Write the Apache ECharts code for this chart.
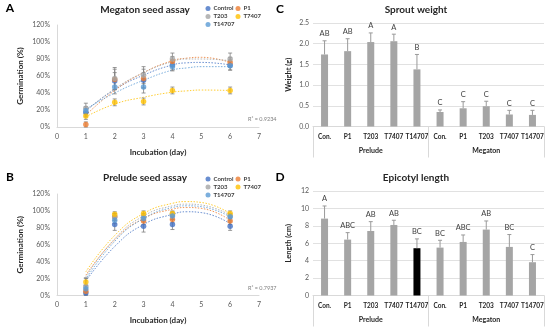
<!DOCTYPE html>
<html><head><meta charset="utf-8">
<script src="https://cdn.jsdelivr.net/npm/echarts@6/dist/echarts.min.js"></script>
<style>html,body{margin:0;padding:0;background:#fff}#c{width:550px;height:329px}</style>
</head><body><div id="c"></div>
<script>
// ---------- data ----------
const days = [1, 2, 3, 4, 6];
const trendDays = [1, 2, 3, 4, 4.5, 5, 6];
const seriesNames = ['Control', 'P1', 'T203', 'T7407', 'T14707'];
const xTicks = [0, 1, 2, 3, 4, 5, 6, 7];

// Megaton seed assay (germination %)
const megControl = [17, 54, 55, 73, 73];
const megP1 = [3, 56, 57, 77, 76];
const megT203 = [22, 57, 61, 80, 80];
const megT7407 = [13, 29, 30, 43, 43];
const megT14707 = [19, 47, 47, 71, 72];
const megControlErr = [5, 10, 9, 6, 6];
const megP1Err = [3, 12, 11, 6, 6];
const megT203Err = [6, 13, 10, 7, 7];
const megT7407Err = [4, 4, 4, 4, 4];
const megT14707Err = [5, 8, 7, 5, 5];
const megTrendControl = [19, 44, 61, 73, 75.5, 76, 73];
const megTrendP1 = [14, 43, 64, 78, 81, 82, 76];
const megTrendT203 = [19, 45, 64, 77, 80, 80, 78];
const megTrendT7407 = [12, 27, 35, 41, 42.5, 43.5, 43];
const megTrendT14707 = [21, 40, 55, 67, 69.5, 71, 71];
const megR2 = 'R² = 0.9234';

// Prelude seed assay (germination %)
const preControl = [3, 84, 82, 84, 82];
const preP1 = [5, 93, 88, 90, 88];
const preT203 = [11, 93, 93, 96, 94];
const preT7407 = [16, 96, 97, 97, 97];
const preT14707 = [8, 89, 91, 94, 93];
const preControlErr = [3, 7, 7, 6, 5];
const preP1Err = [3, 4, 4, 4, 4];
const preT203Err = [10, 4, 4, 3, 3];
const preT7407Err = [4, 3, 3, 3, 3];
const preT14707Err = [4, 4, 4, 4, 4];
const preTrendControl = [17, 58, 84, 96, 99, 98, 85];
const preTrendP1 = [24, 66, 91, 102, 104, 103, 89];
const preTrendT203 = [22, 67, 94, 106, 108, 107, 95];
const preTrendT7407 = [28, 71, 97, 109, 111, 110, 97];
const preTrendT14707 = [19, 64, 91, 104, 106, 105, 93];
const preR2 = 'R² = 0.7937';

// bar panels
const barCategories = ['Con.', 'P1', 'T203', 'T7407', 'T14707', 'Con.', 'P1', 'T203', 'T7407', 'T14707'];
const barGroups = ['Prelude', 'Megaton'];
const sproutWeight = [1.74, 1.82, 2.04, 2.06, 1.38, 0.35, 0.44, 0.49, 0.29, 0.28];
const sproutWeightErr = [0.33, 0.30, 0.22, 0.17, 0.36, 0.05, 0.16, 0.12, 0.10, 0.11];
const sproutLetters = ['AB', 'AB', 'A', 'A', 'B', 'C', 'C', 'C', 'C', 'C'];
const epicotyl = [8.83, 6.42, 7.41, 8.10, 5.43, 5.50, 6.15, 7.57, 5.58, 3.82];
const epicotylErr = [1.45, 0.80, 1.07, 0.54, 1.07, 0.84, 0.80, 0.99, 1.42, 0.88];
const epicotylLetters = ['A', 'ABC', 'AB', 'AB', 'BC', 'BC', 'ABC', 'AB', 'BC', 'C'];
const highlightedEpicotylIndex = 4;

// ---------- styling ----------
const F = 'Lato, "Open Sans", "Liberation Sans", sans-serif';
const colors = ['#4472c4', '#ed7d31', '#a5a5a5', '#ffc000', '#5b9bd5'];
const tickColor = '#595959';
const lineGray = '#d9d9d9';

const megVals = [megControl, megP1, megT203, megT7407, megT14707];
const megErrs = [megControlErr, megP1Err, megT203Err, megT7407Err, megT14707Err];
const megTrends = [megTrendControl, megTrendP1, megTrendT203, megTrendT7407, megTrendT14707];
const preVals = [preControl, preP1, preT203, preT7407, preT14707];
const preErrs = [preControlErr, preP1Err, preT203Err, preT7407Err, preT14707Err];
const preTrends = [preTrendControl, preTrendP1, preTrendT203, preTrendT7407, preTrendT14707];

function errBoth(params, api) {
  const x = api.value(0), v = api.value(1), e = api.value(2);
  const t = api.coord([x, v + e]), b = api.coord([x, v - e]);
  const c = 2, st = { stroke: '#7f7f7f', lineWidth: 0.8 };
  return { type: 'group', children: [
    { type: 'line', shape: { x1: t[0], y1: t[1], x2: b[0], y2: b[1] }, style: st },
    { type: 'line', shape: { x1: t[0] - c, y1: t[1], x2: t[0] + c, y2: t[1] }, style: st },
    { type: 'line', shape: { x1: b[0] - c, y1: b[1], x2: b[0] + c, y2: b[1] }, style: st }
  ]};
}
function errUpWithLetter(letters) {
  return function (params, api) {
    const x = api.value(0), v = api.value(1), e = api.value(2);
    const b = api.coord([x, v]), t = api.coord([x, v + e]);
    const c = 2, st = { stroke: '#9a9a9a', lineWidth: 1 };
    return { type: 'group', children: [
      { type: 'line', shape: { x1: t[0], y1: t[1], x2: b[0], y2: b[1] }, style: st },
      { type: 'line', shape: { x1: t[0] - c, y1: t[1], x2: t[0] + c, y2: t[1] }, style: st },
      { type: 'text', x: t[0], y: t[1] - 3, style: { text: letters[params.dataIndex], fill: '#404040',
        font: '7.5px ' + F, textAlign: 'center', textVerticalAlign: 'bottom' } }
    ]};
  };
}

const series = [];
function addScatterPanel(vals, errs, trends, axisIdx) {
  vals.forEach((arr, k) => {
    series.push({ type: 'line', name: 'trend' + axisIdx + k, xAxisIndex: axisIdx, yAxisIndex: axisIdx,
      data: trendDays.map((d, i) => [d, trends[k][i]]), smooth: true, showSymbol: false, silent: true,
      lineStyle: { color: colors[k], width: 1, type: [1.5, 1.5], opacity: 0.8 }, z: 2 });
  });
  vals.forEach((arr, k) => {
    series.push({ type: 'custom', name: 'err' + axisIdx + k, xAxisIndex: axisIdx, yAxisIndex: axisIdx,
      data: days.map((d, i) => [d, arr[i], errs[k][i]]), renderItem: errBoth, z: 3, silent: true });
  });
  vals.forEach((arr, k) => {
    series.push({ type: 'scatter', name: seriesNames[k], xAxisIndex: axisIdx, yAxisIndex: axisIdx,
      data: days.map((d, i) => [d, arr[i]]), symbol: 'circle', symbolSize: 5.5,
      itemStyle: { color: colors[k] }, z: 4 });
  });
}
addScatterPanel(megVals, megErrs, megTrends, 0);
addScatterPanel(preVals, preErrs, preTrends, 1);

series.push({ type: 'bar', xAxisIndex: 2, yAxisIndex: 2, data: sproutWeight, barWidth: 7,
  itemStyle: { color: '#a5a5a5' }, silent: true });
series.push({ type: 'custom', xAxisIndex: 2, yAxisIndex: 2, silent: true, z: 5,
  data: sproutWeight.map((v, i) => [i, v, sproutWeightErr[i]]), renderItem: errUpWithLetter(sproutLetters) });
series.push({ type: 'bar', xAxisIndex: 4, yAxisIndex: 3, barWidth: 7, silent: true,
  data: epicotyl.map((v, i) => ({ value: v, itemStyle: { color: i === highlightedEpicotylIndex ? '#000000' : '#a5a5a5' } })) });
series.push({ type: 'custom', xAxisIndex: 4, yAxisIndex: 3, silent: true, z: 5,
  data: epicotyl.map((v, i) => [i, v, epicotylErr[i]]), renderItem: errUpWithLetter(epicotylLetters) });

const grids = [
  { left: 57, top: 25, width: 202, height: 102 },
  { left: 57, top: 194, width: 202, height: 101.5 },
  { left: 313, top: 23, width: 231, height: 103.5 },
  { left: 313, top: 191, width: 231, height: 104.5 }
];

function valueX(gi) {
  return { type: 'value', gridIndex: gi, min: xTicks[0], max: xTicks[xTicks.length - 1], interval: 1,
    axisLine: { show: true, lineStyle: { color: lineGray } }, axisTick: { show: false }, splitLine: { show: false },
    axisLabel: { color: tickColor, fontSize: 7, fontFamily: F, margin: 6 },
    name: 'Incubation (day)', nameLocation: 'middle', nameGap: 21,
    nameTextStyle: { fontSize: 8, fontWeight: 'bold', fontFamily: F, color: '#262626' } };
}
function pctY(gi) {
  return { type: 'value', gridIndex: gi, min: 0, max: 120, interval: 20,
    axisLine: { show: true, lineStyle: { color: lineGray } }, axisTick: { show: false }, splitLine: { show: false },
    axisLabel: { color: tickColor, fontSize: 7, fontFamily: F, margin: 7, formatter: '{value}%' },
    name: 'Germination (%)', nameLocation: 'middle', nameGap: 33,
    nameTextStyle: { fontSize: 8, fontWeight: 'bold', fontFamily: F, color: '#262626' } };
}
function catX(gi) {
  return { type: 'category', gridIndex: gi, data: barCategories, position: 'bottom',
    axisLine: { show: true, lineStyle: { color: lineGray } }, axisTick: { show: false },
    axisLabel: { interval: 0, color: '#262626', fontSize: 6.5, fontWeight: 'bold', fontFamily: F, margin: 7 } };
}
function groupX(gi) {
  return { type: 'category', gridIndex: gi, data: barGroups, position: 'bottom',
    axisLine: { show: false }, axisTick: { show: true, length: 31, interval: 0, lineStyle: { color: lineGray } },
    axisLabel: { interval: 0, color: '#262626', fontSize: 7, fontWeight: 'bold', fontFamily: F, margin: 20.5 } };
}
function barY(gi, max, interval, dec, name) {
  return { type: 'value', gridIndex: gi, min: 0, max: max, interval: interval,
    axisLine: { show: false }, axisTick: { show: false },
    splitLine: { show: true, lineStyle: { color: lineGray, width: 0.8 } },
    axisLabel: { color: tickColor, fontSize: 7, fontFamily: F, margin: 4, formatter: v => v.toFixed(dec) },
    name: name, nameLocation: 'middle', nameGap: 20,
    nameTextStyle: { fontSize: 7.5, fontWeight: 'bold', fontFamily: F, color: '#262626' } };
}

function legendItem(name, left, top) {
  return { data: [name], left: left, top: top, padding: 0, itemWidth: 5, itemHeight: 5, itemGap: 0,
    icon: 'circle', selectedMode: false,
    textStyle: { fontSize: 6, fontWeight: 'bold', fontFamily: F, color: '#404040', padding: [0, 0, 0, -2] } };
}
const legendCols = [205.5, 235.5];
const legends = [];
[[5.5, 13.5, 21.5], [176, 184, 192]].forEach(rows => {
  legends.push(legendItem('Control', legendCols[0], rows[0]));
  legends.push(legendItem('P1', legendCols[1], rows[0]));
  legends.push(legendItem('T203', legendCols[0], rows[1]));
  legends.push(legendItem('T7407', legendCols[1], rows[1]));
  legends.push(legendItem('T14707', legendCols[0], rows[2]));
});

function txt(text, x, y, size, weight, color, align) {
  return { type: 'text', x: x, y: y, silent: true,
    style: { text: text, font: (weight || 'normal') + ' ' + size + 'px ' + F, fill: color || '#000',
      textAlign: align || 'center', textVerticalAlign: 'middle' } };
}

const chart = echarts.init(document.getElementById('c'), null, { renderer: 'canvas' });
chart.setOption({
  animation: false,
  backgroundColor: '#ffffff',
  grid: grids,
  xAxis: [valueX(0), valueX(1), catX(2), groupX(2), catX(3), groupX(3)],
  yAxis: [pctY(0), pctY(1), barY(2, 2.5, 0.5, 1, 'Weight (g)'), barY(3, 12, 2, 0, 'Length (cm)')],
  legend: legends,
  series: series,
  graphic: [
    txt('A', 10, 8, 12, 'bold', '#000'),
    txt('B', 10, 177, 12, 'bold', '#000'),
    txt('C', 280, 9, 12, 'bold', '#000'),
    txt('D', 280, 177, 12, 'bold', '#000'),
    txt('Megaton seed assay', 145, 9.5, 10, 'bold', '#262626'),
    txt('Prelude seed assay', 145, 177.5, 10, 'bold', '#262626'),
    txt('Sprout weight', 416, 10, 10, 'bold', '#262626'),
    txt('Epicotyl length', 416, 177.5, 10, 'bold', '#262626'),
    txt(megR2, 248, 119, 5.5, 'normal', '#7f7f7f', 'left'),
    txt(preR2, 248, 288, 5.5, 'normal', '#7f7f7f', 'left')
  ]
});
</script>
</body></html>
